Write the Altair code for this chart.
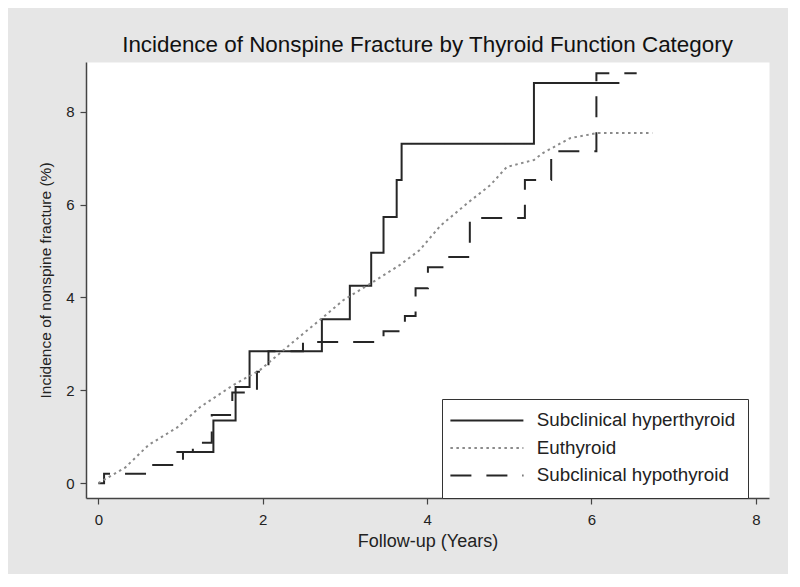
import altair as alt
import pandas as pd

# ---- data ----
series_names = ["Subclinical hyperthyroid", "Euthyroid", "Subclinical hypothyroid"]

hyper_years = [0.95, 1.40, 1.67, 1.84, 2.72, 3.06, 3.32, 3.47, 3.63, 3.69, 5.30, 6.34]
hyper_pct = [0.67, 1.35, 2.07, 2.84, 3.53, 4.25, 4.96, 5.73, 6.53, 7.31, 8.62, 8.62]

eu_years = [0.0, 0.05, 0.33, 0.61, 0.96, 1.24, 1.64, 1.97, 2.37, 2.74, 2.98, 3.34,
            3.67, 3.91, 4.16, 4.49, 4.77, 4.97, 5.30, 5.41, 5.74, 6.07, 6.74]
eu_pct = [0.0, 0.05, 0.34, 0.82, 1.20, 1.64, 2.11, 2.44, 3.04, 3.58, 3.94, 4.33,
          4.70, 5.02, 5.54, 6.03, 6.42, 6.81, 6.96, 7.11, 7.43, 7.54, 7.54]

hypo_years = [0.0, 0.07, 0.60, 1.03, 1.15, 1.38, 1.63, 1.93, 2.07, 2.49, 3.47, 3.73,
              3.86, 4.01, 4.27, 4.52, 5.19, 5.51, 6.06, 6.55]
hypo_pct = [0.0, 0.20, 0.39, 0.67, 0.87, 1.47, 1.95, 2.40, 2.84, 3.04, 3.27, 3.60,
            4.20, 4.65, 4.87, 5.71, 6.53, 7.15, 8.83, 8.83]

x_ticks = [0, 2, 4, 6, 8]
y_ticks = [0, 2, 4, 6, 8]

title_text = "Incidence of Nonspine Fracture by Thyroid Function Category"
x_title = "Follow-up (Years)"
y_title = "Incidence of nonspine fracture (%)"

# ---- tables ----
df_step = pd.concat([
    pd.DataFrame({"years": hyper_years, "pct": hyper_pct, "group": series_names[0]}),
    pd.DataFrame({"years": hypo_years, "pct": hypo_pct, "group": series_names[2]}),
])
df_eu = pd.DataFrame({"years": eu_years, "pct": eu_pct, "group": series_names[1]})

FONT = "Liberation Sans"

color_scale = alt.Scale(domain=series_names, range=["#262626", "#8a8a8a", "#262626"])
dash_scale = alt.Scale(domain=series_names, range=[[1, 0], [2.5, 3.5], [21, 15]])

legend = alt.Legend(title=None, labelExpr="datum.label + '\u00a0\u00a0\u00a0\u00a0\u00a0'")

x_enc = alt.X("years:Q",
              scale=alt.Scale(domain=[-0.15, 8.16], nice=False, zero=False),
              axis=alt.Axis(values=x_ticks, title=x_title, grid=False, format="d",
                            titleFontSize=18, labelPadding=8, titlePadding=5))
y_enc = alt.Y("pct:Q",
              scale=alt.Scale(domain=[-0.32, 9.07], nice=False, zero=False),
              axis=alt.Axis(values=y_ticks, title=y_title, grid=False, format="d",
                            titleFontSize=15.5, labelPadding=6, titlePadding=12))
color_enc = alt.Color("group:N", scale=color_scale, legend=legend)
dash_enc = alt.StrokeDash("group:N", scale=dash_scale, legend=legend)

steps = alt.Chart(df_step).mark_line(interpolate="step-after", strokeWidth=2).encode(
    x=x_enc, y=y_enc, color=color_enc, strokeDash=dash_enc)
eu = alt.Chart(df_eu).mark_line(strokeWidth=2).encode(
    x=x_enc, y=y_enc, color=color_enc, strokeDash=dash_enc)

chart = alt.layer(steps, eu).properties(
    width=683,
    height=436,
    padding={"left": 78, "top": 54, "right": 19, "bottom": 76},
    autosize=alt.AutoSizeParams(type="none"),
    background="#e6e6e6",
    title=alt.TitleParams(title_text, font=FONT, fontSize=22.4, fontWeight="normal",
                          color="#111111", anchor="middle", frame="group", offset=6),
).configure_view(
    fill="white", stroke="transparent"
).configure_axis(
    domainColor="#444444", domainWidth=1.5, tickColor="#444444", tickWidth=1.2,
    tickSize=6, labelFont=FONT, labelFontSize=15, labelColor="#222222",
    titleFont=FONT, titleFontWeight="normal", titleColor="#222222",
).configure_legend(
    orient="none", legendX=356, legendY=337, padding=12,
    strokeColor="#333333", fillColor="white",
    symbolType="M-18.25,0L18.25,0", symbolSize=16, symbolOffset=23.5,
    symbolStrokeWidth=2, symbolFillColor="transparent",
    labelFont=FONT, labelFontSize=18.8, labelColor="#222222", labelOffset=40.5,
    rowPadding=7.5, labelLimit=400,
)

chart.save("out.html", embed_options={"renderer": "svg", "actions": False})
